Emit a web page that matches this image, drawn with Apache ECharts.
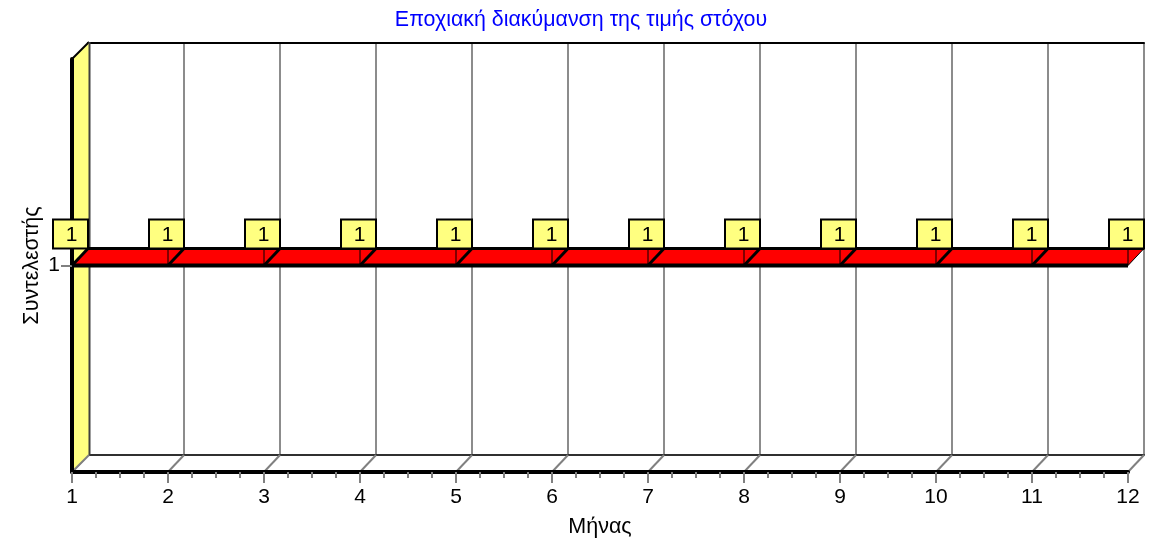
<!DOCTYPE html>
<html><head><meta charset="utf-8">
<style>html,body{margin:0;padding:0;background:#fff}#c{width:1156px;height:541px}</style>
<script src="https://cdn.jsdelivr.net/npm/echarts@6/dist/echarts.min.js"></script>
</head><body><div id="c"></div>
<script>
const months = [1,2,3,4,5,6,7,8,9,10,11,12];
const coefficients = [1,1,1,1,1,1,1,1,1,1,1,1];
const yTickValues = [1];
const titleText = 'Εποχιακή διακύμανση της τιμής στόχου';
const xName = 'Μήνας';
const yName = 'Συντελεστής';
const points = months.map((m,i)=>[m,coefficients[i]]);
const FONT = 'Liberation Sans';
const DX = 16, DY = -17;
const X0 = 72, XR = 28, YT = 59, YH = 413;
const back = p => [p[0]+DX, p[1]+DY];
const chart = echarts.init(document.getElementById('c'), null, {renderer:'canvas'});
const noAxis = {show:false};
chart.setOption({
  animation:false,
  backgroundColor:'#fff',
  title:{text:titleText,left:576,top:5,textAlign:'center',textStyle:{color:'#0000ff',fontFamily:FONT,fontSize:21.4,fontWeight:'normal'}},
  grid:[
    {left:X0,right:XR,top:YT,height:YH,outerBoundsMode:'none'},
    {left:X0+DX,right:XR-DX,top:YT+DY+1,height:YH-1,outerBoundsMode:'none'}
  ],
  xAxis:[
    {type:'value',gridIndex:0,min:1,max:12,interval:1,z:5,
     name:xName,nameLocation:'middle',nameGap:44,nameMoveOverlap:false,nameTextStyle:{color:'#000',fontFamily:FONT,fontSize:21.5},
     axisLine:{show:true,onZero:false,lineStyle:{color:'#000',width:4}},
     axisTick:{show:true,length:11,lineStyle:{color:'#808080',width:2}},
     minorTick:{show:true,splitNumber:4,length:6,lineStyle:{color:'#808080',width:2}},
     axisLabel:{color:'#000',fontFamily:FONT,fontSize:21,margin:15,showMinLabel:true,showMaxLabel:true},
     splitLine:{show:false}},
    {type:'value',gridIndex:1,min:1,max:12,interval:1,position:'bottom',
     axisLine:{show:true,onZero:false,lineStyle:{color:'#303030',width:2}},
     axisTick:{show:false},minorTick:{show:false},axisLabel:{show:false},
     splitLine:{show:true,lineStyle:{color:'#8c8c8c',width:2}}},
    {type:'value',gridIndex:1,min:1,max:12,interval:1,position:'top',
     axisLine:{show:true,onZero:false,lineStyle:{color:'#000',width:2}},
     axisTick:{show:false},minorTick:{show:false},axisLabel:{show:false},splitLine:{show:false}}
  ],
  yAxis:[
    {type:'value',gridIndex:0,min:0,max:2,z:5,
     name:yName,nameLocation:'middle',nameGap:29,nameMoveOverlap:false,nameTextStyle:{color:'#000',fontFamily:FONT,fontSize:21.5},
     axisLine:{show:true,onZero:false,lineStyle:{color:'#000',width:4}},
     axisTick:{show:true,length:11,customValues:yTickValues,lineStyle:{color:'#808080',width:2}},
     axisLabel:{color:'#000',fontFamily:FONT,fontSize:21,margin:12,customValues:yTickValues},
     splitLine:{show:false}},
    {type:'value',gridIndex:1,min:0,max:2,axisLine:noAxis,axisTick:noAxis,axisLabel:noAxis,splitLine:noAxis}
  ],
  series:[
    { // left wall
      type:'custom',xAxisIndex:0,yAxisIndex:0,z:3,silent:true,coordinateSystem:'cartesian2d',
      data:[points[0]],
      renderItem(params,api){
        const lo=api.coord([1,0]),hi=api.coord([1,2]);
        const wx=DX+1;
        return {type:'group',children:[
          {type:'polygon',shape:{points:[lo,hi,[hi[0]+wx,hi[1]+DY],[lo[0]+wx,lo[1]+DY]]},style:{fill:'#ffff80',stroke:null}},
          {type:'line',shape:{x1:hi[0],y1:hi[1],x2:hi[0]+wx,y2:hi[1]+DY},style:{stroke:'#000',lineWidth:2}},
          {type:'line',shape:{x1:hi[0]+wx+0.5,y1:hi[1]+DY,x2:lo[0]+wx+0.5,y2:lo[1]+DY},style:{stroke:'#404040',lineWidth:2}},
          {type:'line',shape:{x1:lo[0],y1:lo[1],x2:lo[0]+wx,y2:lo[1]+DY},style:{stroke:'#808080',lineWidth:2}}
        ]};
      }
    },
    { // floor diagonals
      type:'custom',xAxisIndex:0,yAxisIndex:0,z:2,silent:true,coordinateSystem:'cartesian2d',
      data:points,
      renderItem(params,api){
        const p=api.coord([api.value(0),0]);
        return {type:'line',shape:{x1:p[0],y1:p[1],x2:p[0]+DX,y2:p[1]+DY},style:{stroke:'#808080',lineWidth:2}};
      }
    },
    { // red ribbon
      type:'custom',xAxisIndex:0,yAxisIndex:0,z:4,silent:true,coordinateSystem:'cartesian2d',
      data:points,
      renderItem(params,api){
        const i=params.dataIndex, p=api.coord([api.value(0),api.value(1)]);
        const kids=[];
        if(i<points.length-1){
          const q=api.coord(points[i+1]);
          kids.push({type:'polygon',shape:{points:[p,q,back(q),back(p)]},style:{fill:'#ff0000',stroke:null}});
          kids.push({type:'line',shape:{x1:p[0],y1:p[1],x2:q[0],y2:q[1]},style:{stroke:'#000',lineWidth:4},z2:3});
          kids.push({type:'line',shape:{x1:p[0]+DX,y1:p[1]+DY,x2:q[0]+DX,y2:q[1]+DY},style:{stroke:'#000',lineWidth:3},z2:3});
        }
        const last=i===points.length-1;
        kids.push({type:'line',shape:{x1:p[0],y1:p[1],x2:p[0]+DX,y2:p[1]+DY},style:{stroke:'#000',lineWidth:last?1:3},z2:4});
        return {type:'group',children:kids};
      }
    },
    { // value labels
      type:'custom',xAxisIndex:0,yAxisIndex:0,z:6,silent:true,coordinateSystem:'cartesian2d',
      data:points,
      renderItem(params,api){
        const p=api.coord([api.value(0),api.value(1)]);
        const w=35,h=29,bx=p[0]+DX-w,by=p[1]+DY-h;
        return {type:'group',children:[
          {type:'line',shape:{x1:p[0],y1:p[1]+DY,x2:p[0],y2:p[1]},style:{stroke:'#000',lineWidth:1}},
          {type:'rect',shape:{x:bx,y:by,width:w,height:h},style:{fill:'#ffff80',stroke:'#000',lineWidth:2}},
          {type:'text',style:{x:bx+w/2+1,y:by+h/2+1,text:String(api.value(1)),fill:'#000',font:'21px "'+FONT+'"',align:'center',verticalAlign:'middle'}}
        ]};
      }
    }
  ]
});
</script></body></html>
